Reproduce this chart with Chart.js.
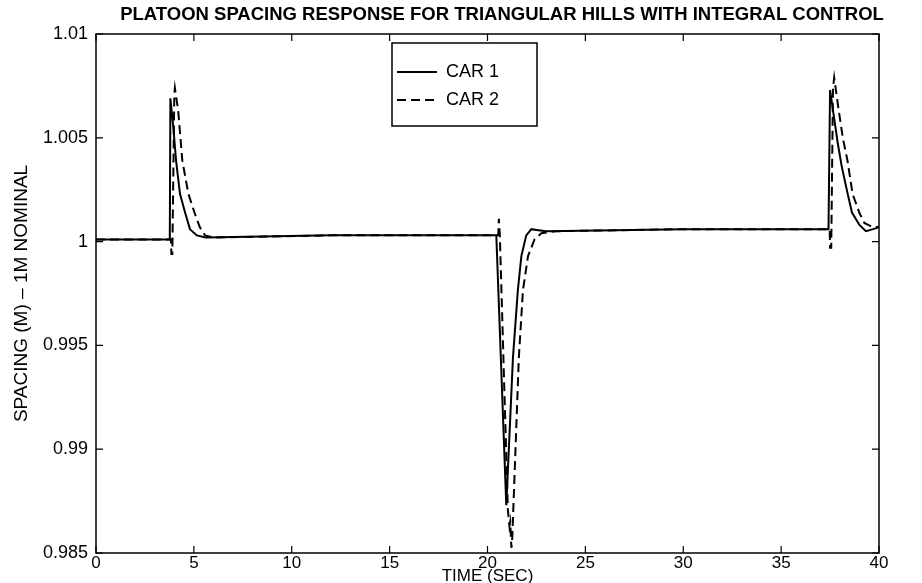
<!DOCTYPE html>
<html>
<head>
<meta charset="utf-8">
<script src="https://cdn.jsdelivr.net/npm/chart.js@4"></script>
<style>
  html, body { margin: 0; padding: 0; background: #fff; }
  #wrap { width: 922px; height: 583px; }
</style>
</head>
<body>
<div id="wrap"><canvas id="chart" width="922" height="583"></canvas></div>
<script>
const chartTitle = "PLATOON SPACING RESPONSE FOR TRIANGULAR HILLS WITH INTEGRAL CONTROL";
const xTitle = "TIME (SEC)";
const yTitle = "SPACING (M) \u2013 1M NOMINAL";
const seriesNames = ["CAR 1", "CAR 2"];

const xTicks = [0, 5, 10, 15, 20, 25, 30, 35, 40];
const xTickLabels = ["0", "5", "10", "15", "20", "25", "30", "35", "40"];
const yTicks = [0.985, 0.99, 0.995, 1, 1.005, 1.01];
const yTickLabels = ["0.985", "0.99", "0.995", "1", "1.005", "1.01"];

// CAR 1 (solid)
const car1Time = [0, 3.77, 3.80, 3.95, 4.09, 4.29, 4.55, 4.80, 5.15, 5.6, 12, 20.45,
  20.96, 21.30, 21.55, 21.73, 21.98, 22.24, 22.6, 23.0, 30, 37.42,
  37.50, 37.70, 37.90, 38.10, 38.40, 38.62, 39.00, 39.33, 39.70, 40];
const car1Value = [1.0001, 1.0001, 1.0069, 1.0055, 1.0039, 1.0023, 1.0014, 1.0006, 1.0003, 1.0002, 1.0003, 1.0003,
  0.9873, 0.9944, 0.99765, 0.9993, 1.0003, 1.0006, 1.00055, 1.0005, 1.0006, 1.0006,
  1.0073, 1.0060, 1.0047, 1.0036, 1.0023, 1.0014, 1.0008, 1.0005, 1.0006, 1.0007];

// CAR 2 (dashed)
const car2Time = [0, 3.83, 3.85, 3.90, 4.00, 4.03, 4.20, 4.41, 4.72, 5.03, 5.30, 5.57, 6.0, 12, 20.55,
  20.58, 20.63, 21.04, 21.12, 21.16, 21.22, 21.26, 21.60, 21.81, 22.07, 22.40, 22.75, 23.5, 30, 37.48,
  37.50, 37.56, 37.65, 37.71, 37.90, 38.15, 38.39, 38.65, 38.99, 39.25, 39.68, 40];
const car2Value = [1.0001, 1.0001, 0.9994, 0.9994, 1.0071, 1.0074, 1.0063, 1.0039, 1.0023, 1.0014, 1.0007, 1.0003, 1.0002, 1.0003, 1.0003,
  1.0011, 1.0003, 0.9871, 0.9863, 0.9865, 0.98525, 0.9856, 0.9944, 0.99765, 0.9993, 1.0001, 1.0004, 1.0005, 1.0006, 1.0006,
  0.9997, 0.9997, 1.0074, 1.0079, 1.0066, 1.0050, 1.0039, 1.0023, 1.0014, 1.0009, 1.0007, 1.0007];

const FONT = "'Liberation Sans', Arial, Helvetica, sans-serif";

function toPoints(ts, vs){
  return ts.map((t, i) => ({ x: t, y: vs[i] }));
}

/* title, centred a bit right of the canvas middle like the scan */
const topTitle = {
  id: "topTitle",
  afterDraw(chart){
    const { ctx } = chart;
    ctx.save();
    ctx.fillStyle = "#000";
    ctx.font = "bold 18.5px " + FONT;
    ctx.textAlign = "center";
    ctx.textBaseline = "middle";
    ctx.fillText(chartTitle, 502, 15);
    ctx.restore();
  }
};

/* frame + inward ticks */
const framePlugin = {
  id: "frame",
  afterDatasetsDraw(chart){
    const { ctx, chartArea: a, scales } = chart;
    ctx.save();
    ctx.strokeStyle = "#000";
    ctx.lineWidth = 1.5;
    ctx.strokeRect(a.left, a.top, a.right - a.left, a.bottom - a.top);
    ctx.lineWidth = 1.2;
    const len = 7;
    ctx.beginPath();
    xTicks.forEach(v => {
      const px = scales.x.getPixelForValue(v);
      ctx.moveTo(px, a.bottom); ctx.lineTo(px, a.bottom - len);
      ctx.moveTo(px, a.top); ctx.lineTo(px, a.top + len);
    });
    yTicks.forEach(v => {
      const py = scales.y.getPixelForValue(v);
      ctx.moveTo(a.left, py); ctx.lineTo(a.left + len, py);
      ctx.moveTo(a.right, py); ctx.lineTo(a.right - len, py);
    });
    ctx.stroke();
    ctx.restore();
  }
};

/* legend box inside the plot */
const boxLegend = {
  id: "boxLegend",
  afterDraw(chart){
    const { ctx } = chart;
    const bx = 392, by = 43, bw = 145, bh = 83;
    ctx.save();
    ctx.fillStyle = "#fff";
    ctx.fillRect(bx, by, bw, bh);
    ctx.strokeStyle = "#000";
    ctx.lineWidth = 1.5;
    ctx.strokeRect(bx, by, bw, bh);
    chart.data.datasets.forEach((ds, i) => {
      const y = by + 29 + i * 28;
      ctx.beginPath();
      ctx.lineWidth = ds.borderWidth;
      ctx.setLineDash(ds.borderDash || []);
      ctx.moveTo(bx + 5, y);
      ctx.lineTo(bx + 45, y);
      ctx.stroke();
      ctx.setLineDash([]);
      ctx.fillStyle = "#000";
      ctx.font = "18px " + FONT;
      ctx.textBaseline = "middle";
      ctx.fillText(ds.label, bx + 54, y);
    });
    ctx.restore();
  }
};

new Chart(document.getElementById("chart"), {
  type: "line",
  data: {
    datasets: [
      {
        label: seriesNames[0],
        data: toPoints(car1Time, car1Value),
        borderColor: "#000",
        borderWidth: 2,
        pointRadius: 0,
        tension: 0
      },
      {
        label: seriesNames[1],
        data: toPoints(car2Time, car2Value),
        borderColor: "#000",
        borderWidth: 2,
        borderDash: [9, 5],
        pointRadius: 0,
        tension: 0
      }
    ]
  },
  options: {
    responsive: false,
    animation: false,
    layout: { padding: { left: 0, right: 43, top: 34, bottom: 0 } },
    plugins: {
      legend: { display: false },
      tooltip: { enabled: false },
      title: { display: false }
    },
    scales: {
      x: {
        type: "linear",
        min: 0,
        max: 40,
        grid: { display: false, drawTicks: false },
        border: { display: false },
        afterBuildTicks: s => { s.ticks = xTicks.map(v => ({ value: v })); },
        afterFit: s => { s.height = 30; },
        ticks: {
          color: "#000",
          font: { family: FONT, size: 17, lineHeight: 1 },
          padding: 2,
          maxRotation: 0,
          callback: (v) => xTickLabels[xTicks.indexOf(v)]
        },
        title: {
          display: true,
          text: xTitle,
          color: "#000",
          font: { family: FONT, size: 17, lineHeight: 1 },
          padding: { top: 0, bottom: -2 }
        }
      },
      y: {
        type: "linear",
        min: 0.985,
        max: 1.01,
        grid: { display: false, drawTicks: false },
        border: { display: false },
        afterBuildTicks: s => { s.ticks = yTicks.map(v => ({ value: v })); },
        afterFit: s => { s.width = 96; },
        ticks: {
          color: "#000",
          font: { family: FONT, size: 18 },
          padding: 8,
          callback: (v) => yTickLabels[yTicks.findIndex(t => Math.abs(t - v) < 1e-9)]
        },
        title: {
          display: true,
          text: yTitle,
          color: "#000",
          font: { family: FONT, size: 19, lineHeight: 1.2 },
          padding: { top: 10, bottom: 4 }
        }
      }
    }
  },
  plugins: [framePlugin, boxLegend, topTitle]
});
</script>
</body>
</html>
